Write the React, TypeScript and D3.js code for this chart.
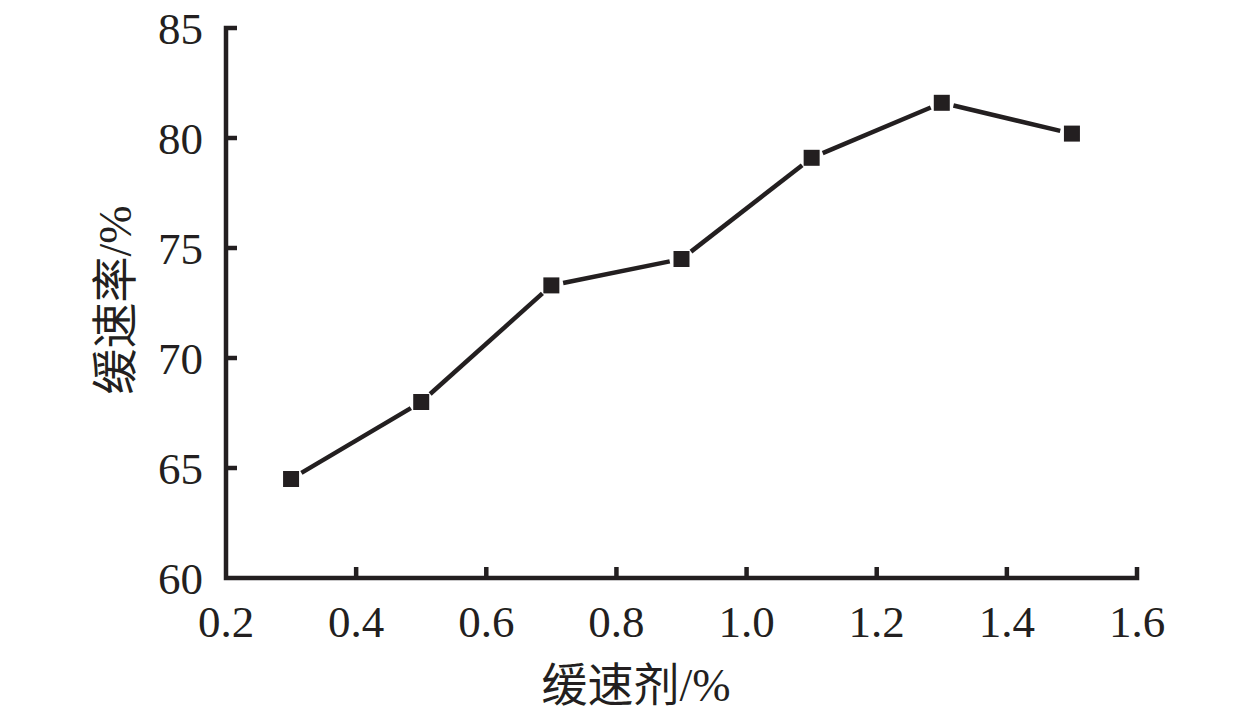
import React from "react";
import * as d3 from "d3";

const dosage = [0.3, 0.5, 0.7, 0.9, 1.1, 1.3, 1.5];
const retardRate = [64.5, 68.0, 73.3, 74.5, 79.1, 81.6, 80.2];
const xTicks = [0.2, 0.4, 0.6, 0.8, 1.0, 1.2, 1.4, 1.6];
const yTicks = [60, 65, 70, 75, 80, 85];
const xTitle = "缓速剂/%";
const yTitle = "缓速率/%";

const W = 1259;
const H = 712;
const left = 226;
const right = 1137;
const top = 28;
const bottom = 578;
const font = "'Liberation Serif', 'Times New Roman', 'Noto Sans CJK SC', serif";

export default function App() {
  const x = d3.scaleLinear().domain([0.2, 1.6]).range([left, right]);
  const y = d3.scaleLinear().domain([60, 85]).range([bottom, top]);
  const pts = dosage.map((d, i) => [x(d), y(retardRate[i])] as [number, number]);
  const gap = 12;
  const segs = pts.slice(1).map((p, i) => {
    const a = pts[i];
    const dx = p[0] - a[0];
    const dy = p[1] - a[1];
    const len = Math.hypot(dx, dy);
    const ux = dx / len, uy = dy / len;
    return [
      [a[0] + ux * gap, a[1] + uy * gap],
      [p[0] - ux * gap, p[1] - uy * gap],
    ] as [number, number][];
  });
  const line = d3.line();
  const ms = 16;
  const ink = "#231f20";
  const sw = 4.5;
  return (
    <svg width={W} height={H} style={{ position: "absolute", left: 0, top: 0, background: "#fff" }}>
      <path
        d={`M${left + 11},${top} H${left} V${bottom} H${right} V${bottom - 11}`}
        fill="none"
        stroke={ink}
        strokeWidth={sw}
        strokeLinejoin="miter"
      />
      {yTicks.slice(1, -1).map((t) => (
        <line key={"yt" + t} x1={left} x2={left + 11} y1={y(t)} y2={y(t)} stroke={ink} strokeWidth={sw} />
      ))}
      {xTicks.slice(1, -1).map((t) => (
        <line key={"xt" + t} x1={x(t)} x2={x(t)} y1={bottom} y2={bottom - 11} stroke={ink} strokeWidth={sw} />
      ))}
      {yTicks.map((t) => (
        <text key={"yl" + t} x={203} y={y(t)} dy="0.35em" textAnchor="end" fontFamily={font} fontSize={45} fill={ink}>
          {t}
        </text>
      ))}
      {xTicks.map((t) => (
        <text key={"xl" + t} x={x(t)} y={637} textAnchor="middle" fontFamily={font} fontSize={45} fill={ink}>
          {t.toFixed(1)}
        </text>
      ))}
      {segs.map((s, i) => (
        <path key={"s" + i} d={line(s) || ""} stroke={ink} strokeWidth={sw} fill="none" />
      ))}
      {pts.map((p, i) => (
        <rect key={"m" + i} x={p[0] - ms / 2} y={p[1] - ms / 2} width={ms} height={ms} fill={ink} />
      ))}
      <text x={636} y={701} textAnchor="middle" fontFamily={font} fontSize={46} fill={ink}>
        {xTitle}
      </text>
      <text
        transform={`translate(131,300) rotate(-90)`}
        textAnchor="middle"
        fontFamily={font}
        fontSize={46}
        fill={ink}
      >
        {yTitle}
      </text>
    </svg>
  );
}
